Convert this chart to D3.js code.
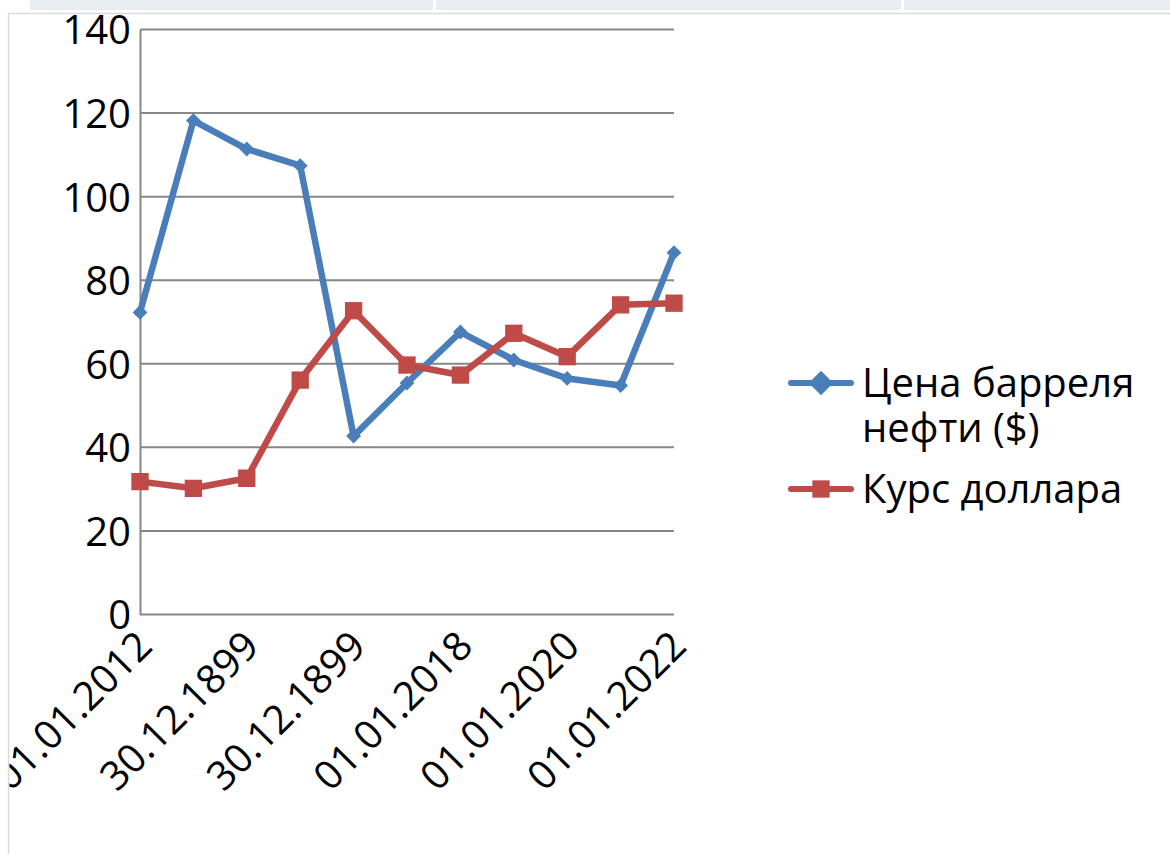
<!DOCTYPE html>
<html>
<head>
<meta charset="utf-8">
<script src="https://cdn.jsdelivr.net/npm/d3@7"></script>
<style>
  body { margin: 0; background: #fff; }
  svg { display: block; font-family: "Open Sans", "Noto Sans", sans-serif; }
</style>
</head>
<body>
<script>
// categories on x axis (only every second one is labelled)
var categories = ["01.01.2012", "30.12.1899", "30.12.1899", "30.12.1899", "30.12.1899",
                  "30.12.1899", "01.01.2018", "01.01.2019", "01.01.2020", "01.01.2021", "01.01.2022"];
var oilPrice = [72.3, 118.2, 111.4, 107.4, 42.7, 55.4, 67.6, 60.9, 56.5, 54.8, 86.6];
var usdRate = [31.8, 30.2, 32.6, 56.1, 72.7, 59.7, 57.3, 67.3, 61.7, 74.1, 74.5];
var seriesNames = ["Цена барреля нефти ($)", "Курс доллара"];
var yTicks = [0, 20, 40, 60, 80, 100, 120, 140];

var W = 1170, H = 854;
var margin = {top: 29.5, left: 140, right: 496, bottom: 239.5};

var svg = d3.select("body").append("svg")
    .attr("width", W)
    .attr("height", H);

// spreadsheet header strip above the chart
var strip = svg.append("g");
strip.append("rect").attr("x", 30).attr("y", 0).attr("width", W - 30).attr("height", 10).attr("fill", "#e8edf0");
[433, 901].forEach(function(xx) {
  strip.append("rect").attr("x", xx).attr("y", 0).attr("width", 3).attr("height", 10).attr("fill", "#fff");
});

// chart area border
svg.append("rect")
    .attr("x", 8.5).attr("y", 13.5)
    .attr("width", W + 20).attr("height", H + 20)
    .attr("fill", "#fff").attr("stroke", "#d9d9d9").attr("stroke-width", 1.5);

svg.append("clipPath").attr("id", "area")
  .append("rect").attr("x", 9.5).attr("y", 14.5).attr("width", W).attr("height", H);

var chart = svg.append("g").attr("clip-path", "url(#area)");

var x = d3.scalePoint()
    .domain(d3.range(categories.length))
    .range([margin.left, W - margin.right]);

var y = d3.scaleLinear()
    .domain([0, 140])
    .range([H - margin.bottom, margin.top]);

// gridlines
chart.append("g")
  .selectAll("line")
  .data(yTicks)
  .enter().append("line")
    .attr("x1", margin.left).attr("x2", W - margin.right)
    .attr("y1", function(d) { return y(d); })
    .attr("y2", function(d) { return y(d); })
    .attr("stroke", "#878787").attr("stroke-width", 2);

// y axis
var yAxis = d3.axisLeft(y).tickValues(yTicks).tickSize(0).tickPadding(9);
var gy = chart.append("g")
    .attr("transform", "translate(" + margin.left + ",0)")
    .call(yAxis);
gy.select(".domain").attr("stroke", "#878787").attr("stroke-width", 2);
gy.selectAll("text")
    .attr("font-size", 40)
    .attr("fill", "#000")
    .attr("font-family", "'Open Sans', sans-serif")
    .attr("dy", "0.36em");

// x axis labels
var xAxis = d3.axisBottom(x)
    .tickValues(d3.range(0, categories.length, 2))
    .tickFormat(function(i) { return categories[i]; })
    .tickSize(0)
    .tickPadding(0);
var gx = chart.append("g")
    .attr("transform", "translate(0," + y(0) + ")")
    .call(xAxis);
gx.select(".domain").remove();
gx.selectAll("text")
    .attr("font-size", 40)
    .attr("fill", "#000")
    .attr("font-family", "'Open Sans', sans-serif")
    .attr("text-anchor", "end")
    .attr("dy", "0.35em")
    .attr("transform", "translate(4,24) rotate(-45)")
    .attr("y", 0)
    .attr("x", 0);

// lines
var series = [
  {name: seriesNames[0], values: oilPrice, color: "#4a7ebb", marker: "diamond"},
  {name: seriesNames[1], values: usdRate, color: "#be4b48", marker: "square"}
];

var line = d3.line()
    .x(function(d, i) { return x(i); })
    .y(function(d) { return y(d); });

var diamond = d3.symbol().type(d3.symbolSquare).size(110);
var square = d3.symbol().type(d3.symbolSquare).size(300);

series.forEach(function(s) {
  chart.append("path")
      .datum(s.values)
      .attr("d", line)
      .attr("fill", "none")
      .attr("stroke", s.color)
      .attr("stroke-width", 6.5)
      .attr("stroke-linejoin", "round");

  chart.append("g").selectAll("path")
      .data(s.values)
      .enter().append("path")
        .attr("d", s.marker == "diamond" ? diamond : square)
        .attr("transform", function(d, i) {
          return "translate(" + x(i) + "," + y(d) + ")" + (s.marker == "diamond" ? " rotate(45)" : "");
        })
        .attr("fill", s.color);
});

// legend
var legend = chart.append("g");
var legRows = [
  {y: 383, lines: ["Цена барреля", "нефти ($)"], s: series[0]},
  {y: 489, lines: ["Курс доллара"], s: series[1]}
];
legRows.forEach(function(r) {
  legend.append("line")
      .attr("x1", 791).attr("x2", 851)
      .attr("y1", r.y).attr("y2", r.y)
      .attr("stroke", r.s.color).attr("stroke-width", 6)
      .attr("stroke-linecap", "round");
  legend.append("path")
      .attr("d", r.s.marker == "diamond" ? d3.symbol().type(d3.symbolSquare).size(300)() : square())
      .attr("transform", "translate(821," + r.y + ")" + (r.s.marker == "diamond" ? " rotate(45)" : ""))
      .attr("fill", r.s.color);
  r.lines.forEach(function(l, k) {
    legend.append("text")
        .attr("x", 862).attr("y", r.y + 14 + k * 45)
        .attr("font-size", 40)
        .attr("fill", "#000")
        .text(l);
  });
});
</script>
</body>
</html>
